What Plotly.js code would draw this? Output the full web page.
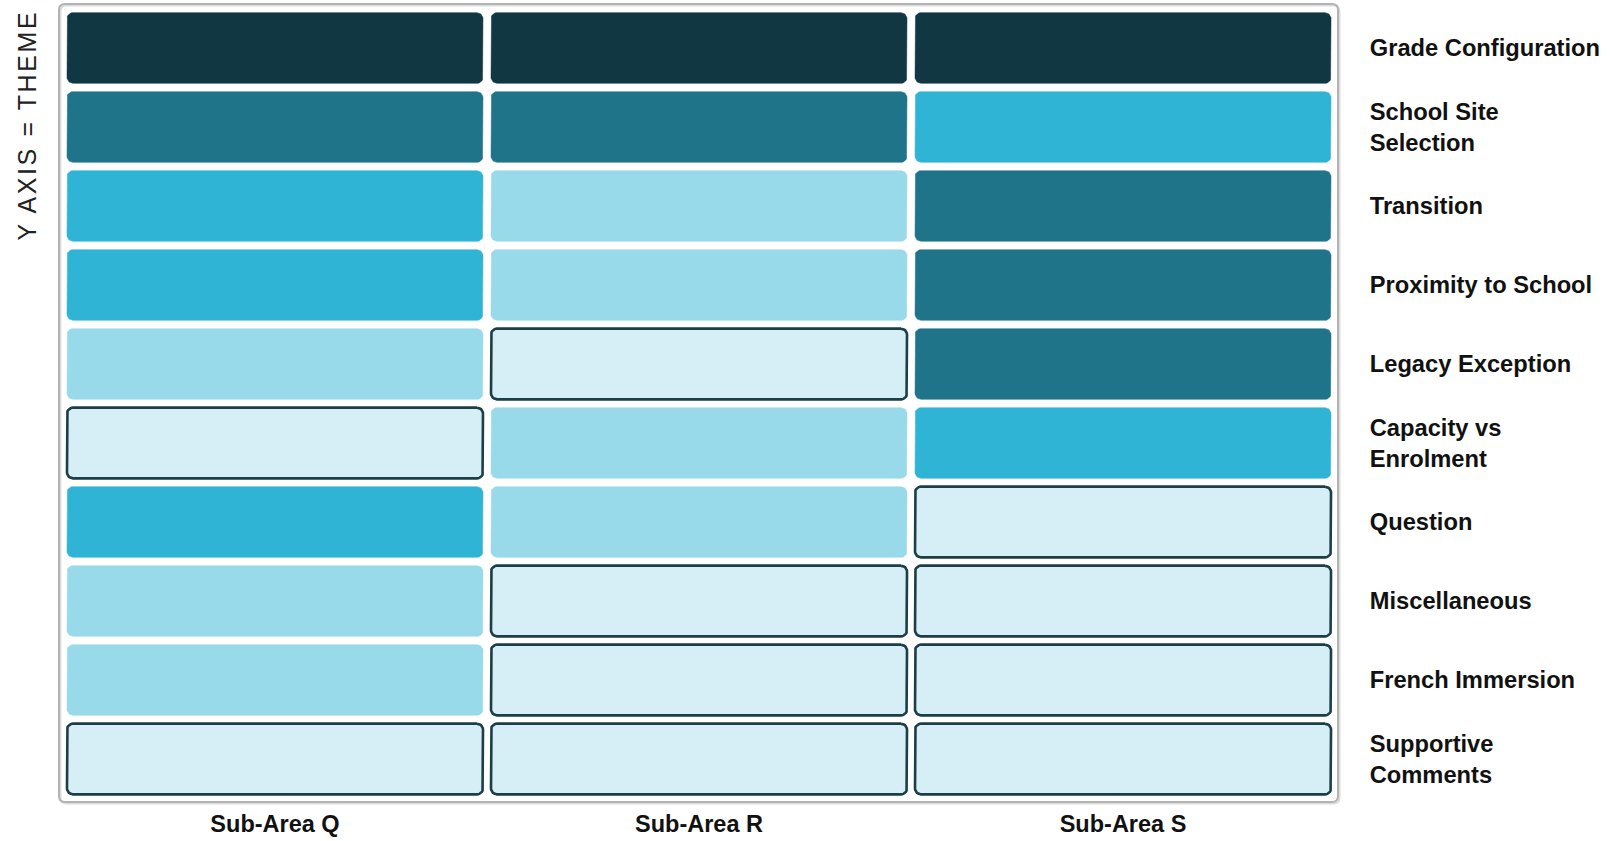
<!DOCTYPE html>
<html>
<head>
<meta charset="utf-8">
<script src="https://cdn.plot.ly/plotly-3.0.1.min.js"></script>
<style>
  html, body { margin: 0; padding: 0; background: #ffffff; }
  #chart { width: 1610px; height: 841px; }
  .annotation-text { letter-spacing: 2.6px; }
</style>
</head>
<body>
<div id="chart"></div>
<script>
// ---- data ----
const subAreas = ['Sub-Area Q', 'Sub-Area R', 'Sub-Area S'];
const themes = ['Grade Configuration', 'School Site<br>Selection', 'Transition',
  'Proximity to School', 'Legacy Exception', 'Capacity vs<br>Enrolment',
  'Question', 'Miscellaneous', 'French Immersion', 'Supportive<br>Comments'];
// intensity level per theme (0 = lowest ... 4 = highest)
const subAreaQ = [4, 3, 2, 2, 1, 0, 2, 1, 1, 0];
const subAreaR = [4, 3, 1, 1, 0, 1, 1, 0, 0, 0];
const subAreaS = [4, 2, 3, 3, 3, 2, 0, 0, 0, 0];
const yAxisLabel = 'Y AXIS = THEME';

// ---- styles ----
const levelColors = ['#d6eff6', '#98d9ea', '#2fb4d6', '#1f7489', '#103742'];
const outlineColor = '#1c3e47';

const W = 1610, H = 841;
const margin = {l: 59, r: 272, t: 4, b: 39};
const xRange = [-0.5094, 2.507];
const yRange = [9.544, -0.557];
const plotW = W - margin.l - margin.r;
const plotH = H - margin.t - margin.b;
const pxPerX = plotW / (xRange[1] - xRange[0]);
const pxPerY = plotH / (yRange[0] - yRange[1]);
const halfW = 208 / pxPerX, halfH = 35.35 / pxPerY;
const rPx = 6;
const rx = rPx / pxPerX, ry = rPx / pxPerY;

function roundedRect(cx, cy) {
  const xs = [], ys = [];
  const x0 = cx - halfW, x1 = cx + halfW, y0 = cy - halfH, y1 = cy + halfH;
  const corners = [
    [x1 - rx, y0 + ry, -Math.PI / 2, 0],
    [x1 - rx, y1 - ry, 0, Math.PI / 2],
    [x0 + rx, y1 - ry, Math.PI / 2, Math.PI],
    [x0 + rx, y0 + ry, Math.PI, 1.5 * Math.PI]
  ];
  const n = 8;
  corners.forEach(c => {
    for (let i = 0; i <= n; i++) {
      const a = c[2] + (c[3] - c[2]) * i / n;
      xs.push(c[0] + rx * Math.cos(a));
      ys.push(c[1] + ry * Math.sin(a));
    }
  });
  xs.push(xs[0]); ys.push(ys[0]);
  return {xs, ys};
}

const columns = [subAreaQ, subAreaR, subAreaS];
const traces = [];
columns.forEach((vals, ci) => {
  vals.forEach((lvl, ri) => {
    const p = roundedRect(ci, ri);
    const outlined = lvl === 0;
    traces.push({
      type: 'scatter', mode: 'lines', x: p.xs, y: p.ys,
      fill: 'toself', fillcolor: levelColors[lvl],
      line: {color: outlined ? outlineColor : levelColors[lvl], width: outlined ? 2.6 : 0.5},
      hoverinfo: 'text', text: subAreas[ci] + ' — ' + themes[ri].replace('<br>', ' '),
      showlegend: false
    });
  });
});

// frame (paper coords)
const fx = rPx / plotW, fy = rPx / plotH;
function framePath(dx, dy) {
  const ox = dx / plotW, oy = -dy / plotH;
  const P = (x, y) => (x + ox).toFixed(5) + ',' + (y + oy).toFixed(5);
  return 'M' + P(fx, 0) + ' L' + P(1 - fx, 0) + ' Q' + P(1, 0) + ' ' + P(1, fy) +
    ' L' + P(1, 1 - fy) + ' Q' + P(1, 1) + ' ' + P(1 - fx, 1) +
    ' L' + P(fx, 1) + ' Q' + P(0, 1) + ' ' + P(0, 1 - fy) +
    ' L' + P(0, fy) + ' Q' + P(0, 0) + ' ' + P(fx, 0) + ' Z';
}

const xFont = {family: 'Liberation Sans, Arial, sans-serif', size: 23.5, color: '#111111', weight: 'bold'};
const yFont = {family: 'Liberation Sans, Arial, sans-serif', size: 23.7, color: '#111111', weight: 'bold'};

const layout = {
  width: W, height: H,
  margin: margin,
  paper_bgcolor: '#ffffff', plot_bgcolor: '#ffffff',
  showlegend: false,
  xaxis: {
    range: xRange, showgrid: false, zeroline: false, showline: false,
    tickvals: [0, 1, 2], ticktext: subAreas,
    ticks: 'outside', ticklen: 1, tickcolor: 'rgba(0,0,0,0)',
    tickfont: xFont, automargin: false, fixedrange: true
  },
  yaxis: {
    range: yRange, side: 'right', showgrid: false, zeroline: false, showline: false,
    tickvals: themes.map((t, i) => i), ticktext: themes,
    ticks: 'outside', ticklen: 26, tickcolor: 'rgba(0,0,0,0)',
    tickfont: yFont, automargin: false, fixedrange: true
  },
  shapes: [
    {type: 'path', xref: 'paper', yref: 'paper', path: framePath(1.5, 1.5),
     line: {color: '#dcdcdc', width: 2}, layer: 'below'},
    {type: 'path', xref: 'paper', yref: 'paper', path: framePath(0, 0),
     line: {color: '#b3b3b3', width: 2}, fillcolor: 'rgba(0,0,0,0)', layer: 'below'}
  ],
  annotations: [{
    text: yAxisLabel, xref: 'paper', yref: 'paper',
    x: (26 - margin.l) / plotW, y: (H - margin.b - 8) / plotH + 0,
    xanchor: 'center', yanchor: 'top', textangle: -90, showarrow: false,
    font: {family: 'Liberation Sans, Arial, sans-serif', size: 25, color: '#222222'}
  }]
};

Plotly.newPlot('chart', traces, layout, {displayModeBar: false, staticPlot: true});
</script>
</body>
</html>
